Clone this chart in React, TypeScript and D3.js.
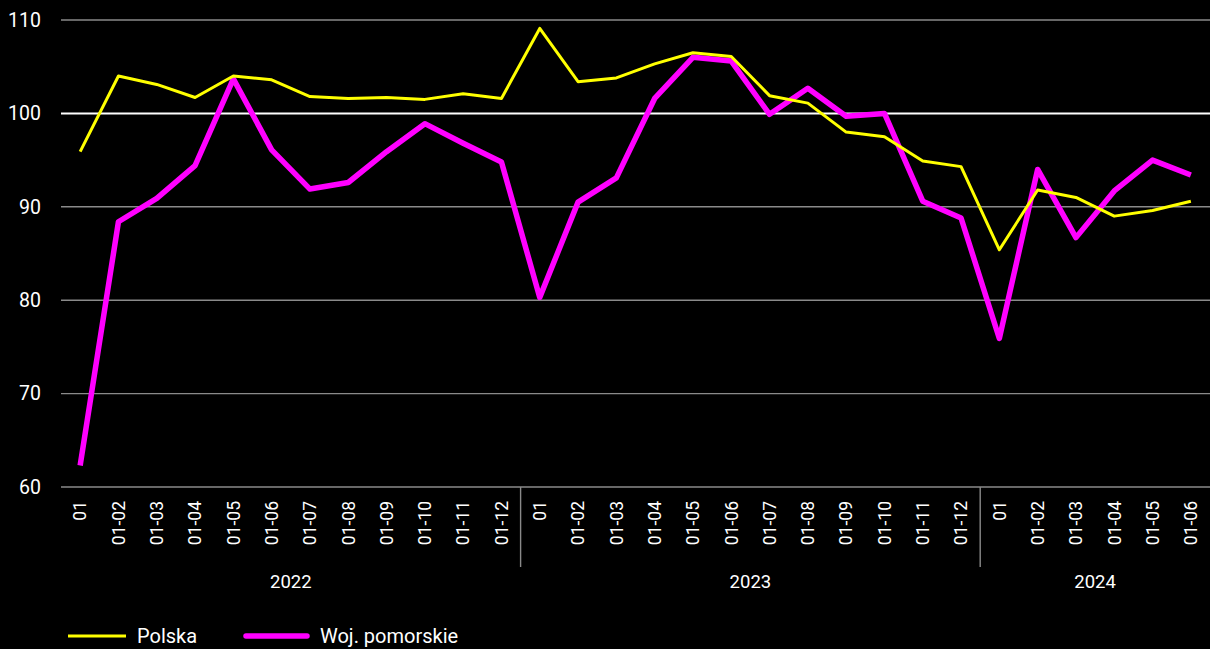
import * as d3 from "d3";

const years = ["2022", "2023", "2024"];
const months2022 = ["01", "01-02", "01-03", "01-04", "01-05", "01-06", "01-07", "01-08", "01-09", "01-10", "01-11", "01-12"];
const months2023 = ["01", "01-02", "01-03", "01-04", "01-05", "01-06", "01-07", "01-08", "01-09", "01-10", "01-11", "01-12"];
const months2024 = ["01", "01-02", "01-03", "01-04", "01-05", "01-06"];

const polska = [
    95.9, 104.0, 103.1, 101.7, 104.0, 103.6, 101.8, 101.6, 101.7, 101.5, 102.1, 101.6,
    109.1, 103.4, 103.8, 105.3, 106.5, 106.1, 101.9, 101.1, 98.0, 97.5, 94.9, 94.3,
    85.4, 91.8, 91.0, 89.0, 89.6, 90.6,
];
const pomorskie = [
    62.3, 88.4, 90.9, 94.4, 103.7, 96.1, 91.9, 92.6, 95.9, 98.9, 96.8, 94.8,
    80.3, 90.5, 93.1, 101.6, 106.0, 105.6, 99.9, 102.7, 99.7, 100.0, 90.6, 88.8,
    75.9, 94.0, 86.7, 91.7, 95.0, 93.4,
];
const yTicks = [60, 70, 80, 90, 100, 110];

const App = () => {
    const width = 1210;
    const height = 649;
    const marginLeft = 61;
    const marginRight = 0;
    const marginTop = 20;
    const plotBottom = 487;
    const font = "Roboto, 'Open Sans', sans-serif";

    const groups = [months2022, months2023, months2024];
    const cats = groups.flatMap((g, gi) => g.map(m => `${years[gi]}|${m}`));

    const x = d3.scaleBand().domain(cats).range([marginLeft, width - marginRight]);
    const y = d3.scaleLinear().domain([60, 110]).range([plotBottom, marginTop]);
    const cx = (i: number) => (x(cats[i]) as number) + x.bandwidth() / 2;

    const line = d3.line<number>().x((_, i) => cx(i)).y(d => y(d));

    let offset = 0;
    const groupInfo = groups.map((g, gi) => {
        const start = x(cats[offset]) as number;
        const end = start + x.bandwidth() * g.length;
        offset += g.length;
        return { year: years[gi], start, end };
    });

    return (
        <div style={{ position: "fixed", left: 0, top: 0 }}>
            <svg width={width} height={height} style={{ display: "block", background: "#000" }} fontFamily={font}>
                <rect width={width} height={height} fill="#000" />
                {yTicks.map(t => (
                    <g key={t}>
                        <line
                            x1={marginLeft}
                            x2={width - marginRight}
                            y1={y(t)}
                            y2={y(t)}
                            stroke={t === 100 ? "#ffffff" : "#8a8a8a"}
                            strokeWidth={t === 100 ? 2 : 1.4}
                        />
                        <text x={41} y={y(t)} dy="0.35em" textAnchor="end" fill="#fff" fontSize={19.5}>{t}</text>
                    </g>
                ))}
                {groupInfo.slice(1).map(g => (
                    <line key={g.year} x1={g.start} x2={g.start} y1={plotBottom} y2={567} stroke="#8a8a8a" strokeWidth={1.4} />
                ))}
                {cats.map((c, i) => (
                    <text
                        key={c}
                        transform={`translate(${cx(i)},${501}) rotate(-90)`}
                        dy="0.36em"
                        textAnchor="end"
                        fill="#fff"
                        fontSize={17.5}
                    >
                        {c.split("|")[1]}
                    </text>
                ))}
                {groupInfo.map(g => (
                    <text key={g.year} x={(g.start + g.end) / 2} y={588} textAnchor="middle" fill="#fff" fontSize={18.5}>{g.year}</text>
                ))}
                <path d={line(pomorskie) ?? ""} fill="none" stroke="#ff00ff" strokeWidth={5.5} strokeLinejoin="round" />
                <path d={line(polska) ?? ""} fill="none" stroke="#ffff00" strokeWidth={3} strokeLinejoin="round" />
                <g transform="translate(0,636)">
                    <line x1={68} x2={126} y1={0} y2={0} stroke="#ffff00" strokeWidth={3} />
                    <text x={137} y={0} dy="0.35em" fill="#fff" fontSize={20}>Polska</text>
                    <line x1={246} x2={307} y1={0} y2={0} stroke="#ff00ff" strokeWidth={5.5} strokeLinecap="round" />
                    <text x={320} y={0} dy="0.35em" fill="#fff" fontSize={20}>Woj. pomorskie</text>
                </g>
            </svg>
        </div>
    );
};

export default App;
